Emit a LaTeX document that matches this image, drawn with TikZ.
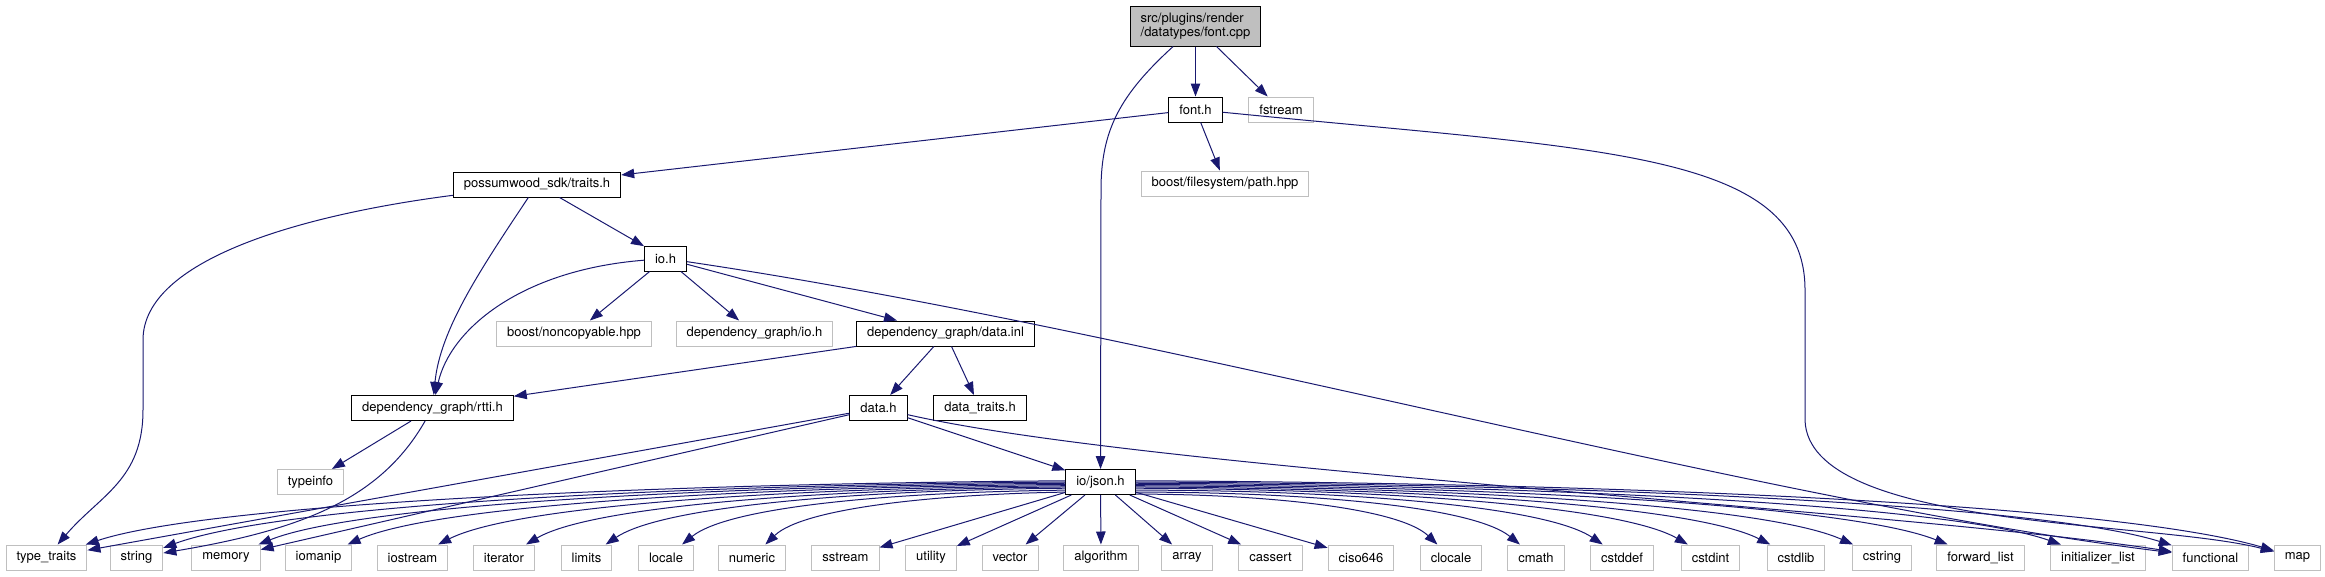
\documentclass[tikz,border=0pt]{standalone}
\usepackage{fontspec}
\setmainfont{TeX Gyre Heros}
\usetikzlibrary{arrows.meta}
\definecolor{edgeblue}{HTML}{191970}
\definecolor{extgrey}{HTML}{BFBFBF}

\begin{document}
\begin{tikzpicture}[x=1pt,y=1pt,font=\fontsize{13}{13.5}\selectfont,
 f/.style={draw,line width=1pt,fill=white,minimum height=25pt,inner xsep=10.5pt,inner ysep=2pt},
 hdr/.style={f,draw=black}, sys/.style={f,draw=extgrey},
 top/.style={f,fill=extgrey,minimum height=40pt,align=left},
 inc/.style={draw=edgeblue,line width=1pt,-{Triangle[length=13pt,width=9.5pt]}}]
\useasboundingbox (0,0) rectangle (2325,-576);
\node[top] (root) at (1195.5,-26) {src/plugins/render\\/datatypes/font.cpp};
\node[hdr] (fonth) at (1195.5,-109.5) {font.h};
\node[sys] (fstream) at (1281,-109.5) {fstream};
\node[sys] (fspath) at (1225,-183.5) {boost/filesystem/path.hpp};
\node[hdr] (traits) at (537,-184.5) {possumwood\_sdk/traits.h};
\node[hdr] (ioh) at (665.5,-258.5) {io.h};
\node[sys] (noncopy) at (574,-333.5) {boost/noncopyable.hpp};
\node[sys] (dgio) at (754.5,-333.5) {dependency\_graph/io.h};
\node[hdr] (datainl) at (945.5,-333.5) {dependency\_graph/data.inl};
\node[hdr] (rtti) at (432.5,-408) {dependency\_graph/rtti.h};
\node[hdr] (datah) at (878.5,-408) {data.h};
\node[hdr] (datatraits) at (980,-408) {data\_traits.h};
\node[sys] (typeinfo) at (310.5,-482) {typeinfo};
\node[hdr] (json) at (1100.5,-482) {io/json.h};
% system headers, bottom row
\node[sys] (typetraits) at (46.5,-557.5) {type\_traits};
\node[sys] (string) at (136.5,-557.5) {string};
\node[sys] (memory) at (226,-557.5) {memory};
\node[sys] (iomanip) at (318.5,-557.5) {iomanip};
\node[sys] (iostream) at (412.5,-557.5) {iostream};
\node[sys] (iterator) at (504,-557.5) {iterator};
\node[sys] (limits) at (586.5,-557.5) {limits};
\node[sys] (locale) at (666,-557.5) {locale};
\node[sys] (numeric) at (752,-557.5) {numeric};
\node[sys] (sstream) at (845.5,-557.5) {sstream};
\node[sys] (utility) at (931,-557.5) {utility};
\node[sys] (vector) at (1010,-557.5) {vector};
\node[sys] (algorithm) at (1101,-557.5) {algorithm};
\node[sys] (array) at (1187,-557.5) {array};
\node[sys] (cassert) at (1270.5,-557.5) {cassert};
\node[sys] (ciso) at (1361,-557.5) {ciso646};
\node[sys] (clocale) at (1451,-557.5) {clocale};
\node[sys] (cmath) at (1536,-557.5) {cmath};
\node[sys] (cstddef) at (1622,-557.5) {cstddef};
\node[sys] (cstdint) at (1710.5,-557.5) {cstdint};
\node[sys] (cstdlib) at (1796,-557.5) {cstdlib};
\node[sys] (cstring) at (1882,-557.5) {cstring};
\node[sys] (fwdlist) at (1980.5,-557.5) {forward\_list};
\node[sys] (initlist) at (2098,-557.5) {initializer\_list};
\node[sys] (functional) at (2210.5,-557.5) {functional};
\node[sys] (map) at (2297.5,-557.5) {map};
% includes
\draw[inc] (root) -- (fonth);
\draw[inc] (root) -- (fstream);
\draw[inc] (root) .. controls (1120,-95) and (1101,-130) .. (1101,-190) -- (json);
\draw[inc] (fonth) -- (traits);
\draw[inc] (fonth) -- (fspath);
\draw[inc] (fonth) .. controls (1600,-150) and (1805,-150) .. (1805,-290) -- (1805,-420)
 .. controls (1808,-530) and (2150,-520) .. (map);
\draw[inc] (traits) .. controls (300,-215) and (143,-260) .. (143,-340) -- (143,-410)
 .. controls (143,-480) and (100,-495) .. (typetraits);
\draw[inc] (traits) .. controls (480,-270) and (440,-330) .. (rtti);
\draw[inc] (traits) -- (ioh);
\draw[inc] (ioh) .. controls (520,-270) and (450,-330) .. (rtti);
\draw[inc] (ioh) -- (noncopy);
\draw[inc] (ioh) -- (dgio);
\draw[inc] (ioh) -- (datainl);
\draw[inc] (ioh) .. controls (1150,-330) and (1750,-500) .. (functional);
\draw[inc] (datainl) -- (rtti);
\draw[inc] (datainl) -- (datah);
\draw[inc] (datainl) -- (datatraits);
\draw[inc] (rtti) -- (typeinfo);
\draw[inc] (rtti) .. controls (380,-500) and (300,-530) .. (string);
\draw[inc] (datah) -- (typetraits);
\draw[inc] (datah) -- (memory);
\draw[inc] (datah) -- (json);
\draw[inc] (datah) .. controls (1150,-470) and (1900,-510) .. (functional);
% io/json.h fan
\draw[inc] (json.178) .. controls (626,-484) and (205,-505) .. (typetraits);
\draw[inc] (json.180) .. controls (667,-485) and (281,-505) .. (string);
\draw[inc] (json.182) .. controls (707,-486) and (357,-505) .. (memory);
\draw[inc] (json.184) .. controls (749,-487) and (436,-505) .. (iomanip);
\draw[inc] (json.186) .. controls (791,-488) and (516,-505) .. (iostream);
\draw[inc] (json.188) .. controls (832,-489) and (593,-505) .. (iterator);
\draw[inc] (json.190) .. controls (869,-490) and (664,-505) .. (limits);
\draw[inc] (json.193) .. controls (905,-492) and (731,-505) .. (locale);
\draw[inc] (json.196) .. controls (944,-494) and (804,-507) .. (numeric);
\draw[inc] (json) -- (sstream);
\draw[inc] (json) -- (utility);
\draw[inc] (json) -- (vector);
\draw[inc] (json) -- (algorithm);
\draw[inc] (json) -- (array);
\draw[inc] (json) -- (cassert);
\draw[inc] (json) -- (ciso);
\draw[inc] (json.-19) .. controls (1258,-494) and (1398,-507) .. (clocale);
\draw[inc] (json.-16) .. controls (1296,-492) and (1471,-505) .. (cmath);
\draw[inc] (json.-13) .. controls (1335,-490) and (1544,-505) .. (cstddef);
\draw[inc] (json.-10) .. controls (1375,-489) and (1619,-505) .. (cstdint);
\draw[inc] (json.-8) .. controls (1413,-488) and (1692,-505) .. (cstdlib);
\draw[inc] (json.-6) .. controls (1452,-487) and (1765,-505) .. (cstring);
\draw[inc] (json.-4) .. controls (1496,-486) and (1848,-505) .. (fwdlist);
\draw[inc] (json.-2) .. controls (1549,-485) and (1948,-505) .. (initlist);
\draw[inc] (json.0) .. controls (1600,-484) and (2044,-505) .. (functional);
\draw[inc] (json.2) .. controls (1639,-483) and (2118,-505) .. (map);
\end{tikzpicture}
\end{document}
